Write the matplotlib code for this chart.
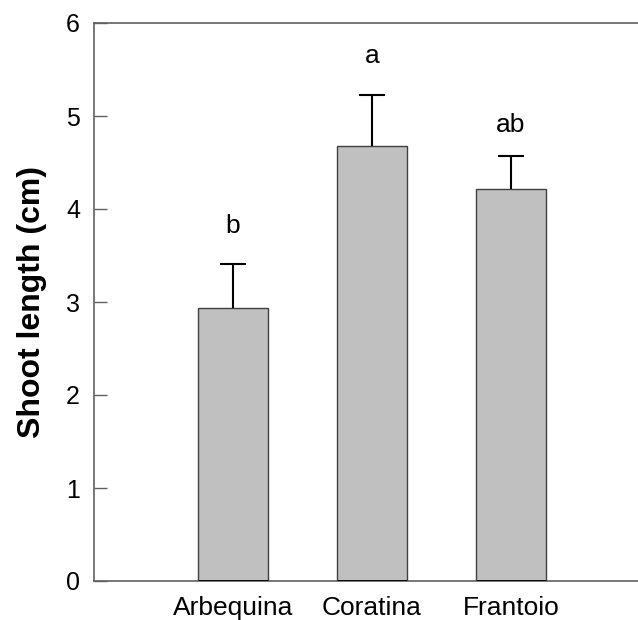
import matplotlib.pyplot as plt
import numpy as np

plt.rcParams['font.family'] = ['Liberation Sans', 'DejaVu Sans']

cultivars = ['Arbequina', 'Coratina', 'Frantoio']
shoot_length = [2.94, 4.68, 4.21]
shoot_se = [0.47, 0.55, 0.36]
letters = ['b', 'a', 'ab']
letter_y = [3.82, 5.64, 4.90]

barcolor = '#c0c0c0'
edgecolor = '#404040'
spinecolor = '#606060'

fig = plt.figure(figsize=(6.38, 6.2), dpi=100)
# right edge of the axes lies past the figure, as in the cropped original
ax = fig.add_axes([94 / 638, 39 / 620, 556 / 638, 558 / 620])

x = np.arange(1, len(cultivars) + 1)
ax.bar(x, shoot_length, width=0.5, color=barcolor, edgecolor=edgecolor,
       linewidth=1.0, zorder=2)
ax.hlines(np.zeros(len(x)), x - 0.25, x + 0.25, color='black', linewidth=2, zorder=3)

# upper error bars only
tops = np.array(shoot_length) + np.array(shoot_se)
ax.vlines(x, shoot_length, tops, color='black', linewidth=1.5, zorder=3)
ax.hlines(tops, x - 0.09, x + 0.09, color='black', linewidth=1.5, zorder=3)

for xi, lab, ly in zip(x, letters, letter_y):
    ax.text(xi, ly, lab, ha='center', va='center', fontsize=19)

ax.set_xlim(0, 4)
ax.set_ylim(0, 6)
ax.set_xticks(x)
ax.set_xticklabels(cultivars)
ax.set_yticks(range(0, 7))
ax.tick_params(axis='y', direction='in', length=9, width=1, color=spinecolor,
               labelsize=18, pad=10)
ax.tick_params(axis='x', length=0, labelsize=19, pad=11)
for s in ax.spines.values():
    s.set_color(spinecolor)
    s.set_linewidth(1.2)

ax.set_ylabel('Shoot length (cm)', fontsize=23, fontweight='bold', labelpad=14)

plt.savefig('out.png', dpi=100)
